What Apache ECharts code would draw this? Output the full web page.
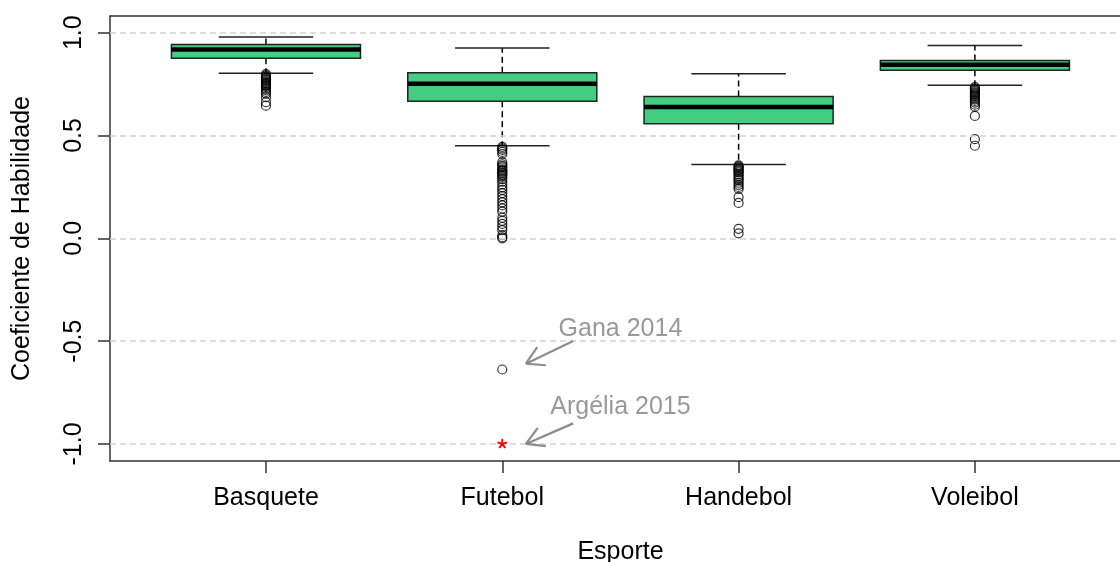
<!DOCTYPE html>
<html>
<head>
<meta charset="utf-8">
<script src="https://cdn.jsdelivr.net/npm/echarts@6/dist/echarts.min.js"></script>
<style>
html,body{margin:0;padding:0;background:#fff;}
#chart{width:1120px;height:562px;}
</style>
</head>
<body>
<div id="chart"></div>
<script>
// ---- data ----
const categories = ['Basquete', 'Futebol', 'Handebol', 'Voleibol'];
const lowerWhisker = [0.803, 0.450, 0.359, 0.744];
const q1 = [0.876, 0.666, 0.557, 0.817];
const median = [0.918, 0.752, 0.638, 0.844];
const q3 = [0.942, 0.805, 0.690, 0.865];
const upperWhisker = [0.979, 0.925, 0.800, 0.938];

const outliersBasquete = [0.798, 0.792, 0.786, 0.780, 0.775, 0.770, 0.765, 0.760, 0.755, 0.750, 0.745, 0.740, 0.735, 0.728, 0.720, 0.712, 0.704, 0.686, 0.662, 0.645];
const outliersFutebol = [0.445, 0.437, 0.430, 0.420, 0.410, 0.370, 0.360, 0.352, 0.345, 0.335, 0.330, 0.325, 0.320, 0.315, 0.310, 0.305, 0.298, 0.288, 0.275, 0.262, 0.248, 0.235, 0.220, 0.205, 0.190, 0.175, 0.160, 0.145, 0.130, 0.100, 0.085, 0.070, 0.055, 0.040, 0.015, 0.005, 0.000, -0.638];
const outliersHandebol = [0.355, 0.350, 0.345, 0.340, 0.335, 0.330, 0.325, 0.320, 0.312, 0.304, 0.296, 0.288, 0.280, 0.270, 0.260, 0.250, 0.240, 0.200, 0.172, 0.046, 0.024];
const outliersVoleibol = [0.735, 0.728, 0.722, 0.716, 0.710, 0.705, 0.700, 0.695, 0.690, 0.684, 0.676, 0.668, 0.660, 0.650, 0.640, 0.595, 0.482, 0.450];

const highlightCategory = ['Futebol'];
const highlightValue = [-1.0];

const annotationLabels = ['Gana 2014', 'Argélia 2015'];
const annotationTextX = [2.5, 2.5];
const annotationTextY = [-0.44, -0.82];
const arrowFromX = [2.3, 2.3];
const arrowFromY = [-0.5, -0.9];
const arrowToX = [2.1, 2.1];
const arrowToY = [-0.61, -1.0];

const yTicks = [-1.0, -0.5, 0.0, 0.5, 1.0];
const xTicks = [1, 2, 3, 4];

// ---- build ----
const FONT = "'Liberation Sans', Arial, sans-serif";
const FS = 25;
const boxData = categories.map((c, i) => [i + 1, lowerWhisker[i], q1[i], median[i], q3[i], upperWhisker[i]]);
const allOutliers = [outliersBasquete, outliersFutebol, outliersHandebol, outliersVoleibol];
const outlierData = [];
allOutliers.forEach((arr, i) => arr.forEach(v => outlierData.push([i + 1, v])));
const starData = highlightCategory.map((c, i) => [categories.indexOf(c) + 1, highlightValue[i]]);
const annData = annotationLabels.map((t, i) => [arrowFromX[i], arrowFromY[i], arrowToX[i], arrowToY[i], annotationTextX[i], annotationTextY[i], i]);

const chart = echarts.init(document.getElementById('chart'), null, {renderer: 'canvas'});
const frameLine = {show: true, onZero: false, lineStyle: {color: '#333', width: 1.5}};

const option = {
  animation: false,
  backgroundColor: '#fff',
  textStyle: {fontFamily: FONT},
  grid: {left: 110, top: 16, right: 0, bottom: 101, show: false, containLabel: false, outerBoundsMode: 'none'},
  xAxis: [{
    type: 'value', min: 0.34, max: 4.614, position: 'bottom',
    axisLine: frameLine,
    splitLine: {show: false},
    axisTick: {show: true, customValues: xTicks, length: 12, lineStyle: {color: '#333', width: 1.5}},
    axisLabel: {customValues: xTicks, formatter: v => categories[Math.round(v) - 1] || '', fontSize: FS, color: '#000', margin: 25, fontFamily: FONT},
    name: 'Esporte', nameLocation: 'middle', nameGap: 79,
    nameTextStyle: {fontSize: FS, color: '#000', fontFamily: FONT, padding: [0, 0, 0, 11]}
  }, {
    type: 'value', min: 0.34, max: 4.614, position: 'top',
    axisLine: frameLine,
    splitLine: {show: false}, axisTick: {show: false}, axisLabel: {show: false}
  }],
  yAxis: {
    type: 'value', min: -1.083, max: 1.081,
    axisLine: frameLine,
    splitLine: {show: false},
    axisTick: {show: true, customValues: yTicks, length: 12, lineStyle: {color: '#333', width: 1.5}},
    axisLabel: {customValues: yTicks, rotate: 90, formatter: v => v.toFixed(1), fontSize: FS, color: '#000', margin: 23, fontFamily: FONT},
    name: 'Coeficiente de Habilidade', nameLocation: 'middle', nameGap: 75,
    nameTextStyle: {fontSize: FS, color: '#000', fontFamily: FONT}
  },
  series: [
    {
      type: 'custom',
      name: 'box',
      data: boxData,
      encode: {x: 0, y: [1, 2, 3, 4, 5]},
      z: 3,
      renderItem: function (params, api) {
        const x = api.value(0);
        const pLow = api.coord([x, api.value(1)]);
        const pQ1 = api.coord([x, api.value(2)]);
        const pMed = api.coord([x, api.value(3)]);
        const pQ3 = api.coord([x, api.value(4)]);
        const pHigh = api.coord([x, api.value(5)]);
        const halfW = api.size([0.8, 0])[0] / 2;
        const cx = pMed[0];
        const whisk = {stroke: '#000', lineWidth: 1.5, lineDash: [6, 4]};
        const cap = {stroke: '#222', lineWidth: 1.5};
        return {
          type: 'group',
          children: [
            {type: 'line', shape: {x1: cx, y1: pQ3[1], x2: cx, y2: pHigh[1]}, style: whisk},
            {type: 'line', shape: {x1: cx, y1: pQ1[1], x2: cx, y2: pLow[1]}, style: whisk},
            {type: 'line', shape: {x1: cx - halfW / 2, y1: pHigh[1], x2: cx + halfW / 2, y2: pHigh[1]}, style: cap},
            {type: 'line', shape: {x1: cx - halfW / 2, y1: pLow[1], x2: cx + halfW / 2, y2: pLow[1]}, style: cap},
            {type: 'rect', shape: {x: cx - halfW, y: pQ3[1], width: 2 * halfW, height: pQ1[1] - pQ3[1]}, style: {fill: '#43CD80', stroke: '#222', lineWidth: 1.5}},
            {type: 'line', shape: {x1: cx - halfW, y1: pMed[1], x2: cx + halfW, y2: pMed[1]}, style: {stroke: '#000', lineWidth: 4.5}}
          ]
        };
      },
      markLine: {
        silent: true, symbol: ['none', 'none'], label: {show: false},
        lineStyle: {type: [6, 4], color: '#d3d3d3', width: 1.5},
        emphasis: {disabled: true},
        data: yTicks.map(v => ({yAxis: v}))
      }
    },
    {
      type: 'scatter',
      name: 'outliers',
      data: outlierData,
      symbol: 'circle',
      symbolSize: 9,
      z: 4,
      itemStyle: {color: 'transparent', borderColor: '#000', borderWidth: 1.2},
      emphasis: {disabled: true}
    },
    {
      type: 'custom',
      name: 'highlight',
      data: starData,
      z: 5,
      renderItem: function (params, api) {
        const p = api.coord([api.value(0), api.value(1)]);
        const r = 5;
        const children = [];
        for (let k = 0; k < 5; k++) {
          const a = -Math.PI / 2 + k * 2 * Math.PI / 5;
          children.push({type: 'line', shape: {x1: p[0], y1: p[1], x2: p[0] + r * Math.cos(a), y2: p[1] + r * Math.sin(a)}, style: {stroke: '#ff0000', lineWidth: 2}});
        }
        return {type: 'group', children: children};
      }
    },
    {
      type: 'custom',
      name: 'annotations',
      data: annData,
      z: 6,
      renderItem: function (params, api) {
        const from = api.coord([api.value(0), api.value(1)]);
        const to = api.coord([api.value(2), api.value(3)]);
        const tp = api.coord([api.value(4), api.value(5)]);
        const label = annotationLabels[api.value(6)];
        const ang = Math.atan2(from[1] - to[1], from[0] - to[0]);
        const L = 20, h = Math.PI / 6;
        const st = {stroke: '#8c8c8c', lineWidth: 2.2};
        return {
          type: 'group',
          children: [
            {type: 'line', shape: {x1: from[0], y1: from[1], x2: to[0], y2: to[1]}, style: st},
            {type: 'line', shape: {x1: to[0], y1: to[1], x2: to[0] + L * Math.cos(ang + h), y2: to[1] + L * Math.sin(ang + h)}, style: st},
            {type: 'line', shape: {x1: to[0], y1: to[1], x2: to[0] + L * Math.cos(ang - h), y2: to[1] + L * Math.sin(ang - h)}, style: st},
            {type: 'text', x: tp[0], y: tp[1], style: {text: label, fill: '#999999', font: FS + 'px ' + FONT, textAlign: 'center', verticalAlign: 'middle'}}
          ]
        };
      }
    }
  ]
};
chart.setOption(option);
</script>
</body>
</html>
